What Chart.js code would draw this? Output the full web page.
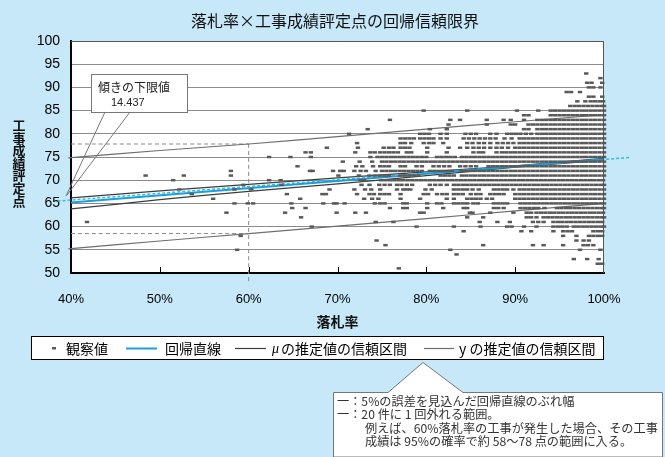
<!DOCTYPE html>
<html lang="ja">
<head>
<meta charset="utf-8">
<title>落札率×工事成績評定点の回帰信頼限界</title>
<script src="https://cdn.jsdelivr.net/npm/chart.js@4.4.1/dist/chart.umd.min.js"></script>
<style>
html,body{margin:0;padding:0;background:#c6e8f8;}
canvas{display:block;}
</style>
</head>
<body>
<canvas id="chart" width="665" height="457"></canvas>
<script>
// ---- Texts ----
const TITLE = '落札率×工事成績評定点の回帰信頼限界';
const X_TITLE = '落札率';
const Y_TITLE = '工事成績評定点';
const LEGEND_LABELS = ['観察値', '回帰直線', 'μの推定値の信頼区間', 'y の推定値の信頼区間'];
const SLOPE_LABEL = '傾きの下限値';
const SLOPE_LOWER = 14.437;
const NOTE_LINES = [
  '一：5%の誤差を見込んだ回帰直線のぶれ幅',
  '一：20 件に 1 回外れる範囲。',
  '例えば、60%落札率の工事が発生した場合、その工事',
  '成績は 95%の確率で約 58～78 点の範囲に入る。'
];

// ---- Axis ticks ----
const rateTicks = [40, 50, 60, 70, 80, 90, 100];
const scoreTicks = [50, 55, 60, 65, 70, 75, 80, 85, 90, 95, 100];

// ---- Observations: one score row, with the bid rates (%) observed at that score ----
const obsScores = [93, 92, 91, 90, 89, 88, 87, 86, 85, 84, 83, 82, 81, 80, 79, 78, 77, 76, 75, 74, 73, 72, 71, 70, 69, 68, 67, 66, 65, 64, 63, 62, 61, 60, 59, 58, 57, 56, 55, 54, 53, 52, 51];
const obsRates = [
  [98],
  [99.6],
  [98.1, 98.6, 99.8],
  [98.3, 98.8, 99.6],
  [95.8, 96.3, 97.3],
  [98.3, 98.8, 99.8],
  [97, 97.9, 98.5, 99, 99.5, 99.9],
  [96.2, 96.7, 97.2, 97.7, 98.2, 98.7, 99.2, 99.7, 100],
  [79.7, 84.6, 90.2, 92.6, 94, 94.5, 95, 95.5, 96, 96.5, 97, 97.5, 98, 98.5, 99, 99.5, 100],
  [91, 91.5, 94, 94.5, 95, 95.5, 96, 96.5, 97, 97.5, 98, 98.5, 99, 99.5, 100],
  [75.9, 82.7, 83.8, 86.8, 88.7, 89.5, 91, 92.5, 93, 93.5, 94, 94.5, 95, 95.5, 96, 96.5, 97, 97.5, 98, 98.5, 99, 99.5, 100],
  [82.5, 86.8, 89.5, 90, 91.5, 92, 92.5, 93, 93.5, 94, 94.5, 95, 95.5, 96, 96.5, 97, 97.5, 98, 98.5, 99, 99.5, 100],
  [73.4, 80.4, 82.3, 91, 91.5, 92.5, 93, 93.5, 94, 94.5, 95, 95.5, 96, 96.5, 97, 97.5, 98, 98.5, 99, 99.5, 100],
  [71.3, 79.3, 79.8, 80.3, 81.6, 82.3, 84.4, 85, 85.6, 87.2, 87.9, 89.1, 89.6, 90.1, 90.6, 91.2, 91.8, 92.5, 93, 93.5, 94, 94.5, 95, 95.5, 96, 96.5, 97, 97.5, 98, 98.5, 99, 99.5, 100],
  [77.1, 77.6, 78.1, 78.6, 79.3, 79.8, 80.3, 80.8, 81.6, 82.3, 84.2, 84.8, 85.4, 86, 86.6, 87.2, 87.8, 88.8, 89.6, 90.5, 91, 91.5, 92, 92.5, 93, 93.5, 94, 94.5, 95, 95.5, 96, 96.5, 97, 97.5, 98, 98.5, 99, 99.5, 100],
  [72.2, 77.1, 77.6, 78.3, 79.7, 80.3, 80.8, 81.9, 84.6, 85.2, 85.9, 86.5, 87.2, 88, 88.6, 89.2, 89.8, 90.5, 91, 91.5, 92, 92.5, 93, 93.5, 94, 94.5, 95, 95.5, 96, 96.5, 97, 97.5, 98, 98.5, 99, 99.5, 100],
  [68.8, 72.3, 75.2, 75.8, 76.3, 77.1, 77.6, 78.1, 80.1, 82.5, 83.8, 84.6, 85.3, 85.9, 86.5, 87.2, 87.9, 88.5, 89.2, 90, 90.5, 91, 91.5, 92, 92.5, 93, 93.5, 94, 94.5, 95, 95.5, 96, 96.5, 97, 97.5, 98, 98.5, 99, 99.5, 100],
  [66.4, 67, 72, 73.7, 74.2, 74.8, 75.3, 75.8, 76.3, 76.8, 77.8, 78.3, 80.1, 82.3, 85.3, 85.9, 86.4, 87.9, 88.5, 89, 89.5, 90, 90.5, 91, 91.5, 92, 92.5, 93, 93.5, 94, 94.5, 95, 95.5, 96, 96.5, 97, 97.5, 98, 98.5, 99, 99.5, 100],
  [62.3, 64.7, 67, 73.7, 74.5, 75, 75.5, 76, 76.5, 77, 77.5, 78, 78.5, 79, 79.5, 80, 81.2, 81.7, 82.2, 82.7, 83.2, 84, 84.5, 85, 85.5, 86, 86.5, 87, 87.5, 88, 88.5, 89, 89.5, 90, 90.5, 91, 91.5, 92, 92.5, 93, 93.5, 94, 94.5, 95, 95.5, 96, 96.5, 97, 97.5, 98, 98.5, 99, 99.5, 100],
  [70.6, 72.5, 73.9, 75, 75.5, 76, 76.5, 77, 77.5, 78, 78.5, 79, 79.5, 80, 80.5, 81, 81.5, 82, 82.5, 83, 83.5, 84, 84.5, 85, 85.5, 86, 86.5, 87, 87.5, 88, 88.5, 89, 89.5, 90, 90.5, 91, 91.5, 92, 92.5, 93, 93.5, 94, 94.5, 95, 95.5, 96, 96.5, 97, 97.5, 98, 98.5, 99, 99.5, 100],
  [65.5, 72.1, 72.8, 74, 74.8, 75.3, 75.8, 77.1, 77.6, 78.9, 79.5, 80.8, 81.4, 82, 82.6, 83.8, 84.4, 85, 85.6, 87, 87.5, 88, 88.5, 89, 89.5, 90, 90.5, 91, 91.5, 92, 92.5, 93, 93.5, 94, 94.5, 95, 95.5, 96, 96.5, 97, 97.5, 98, 98.5, 99, 99.5, 100],
  [58, 66.9, 67.2, 69.5, 70.3, 70.7, 71.9, 72.6, 73.2, 74.3, 75, 75.5, 76, 76.5, 77, 77.5, 78, 78.5, 79, 79.5, 80.4, 80.9, 81.4, 81.9, 82.4, 82.9, 84, 84.5, 85, 85.5, 86, 86.5, 87, 87.5, 88, 88.5, 89, 89.5, 90, 90.5, 91, 91.5, 92, 92.5, 93, 93.5, 94, 94.5, 95, 95.5, 96, 96.5, 97, 97.5, 98, 98.5, 99, 99.5, 100],
  [48.4, 52.7, 58, 70.1, 72.4, 73.6, 74.2, 74.8, 75.3, 75.8, 77.1, 77.6, 78.1, 78.6, 79.1, 81.6, 82.1, 82.6, 83.1, 84, 84.5, 85, 85.5, 86, 86.5, 87, 87.5, 88, 88.5, 89, 89.5, 90, 90.5, 91, 91.5, 92, 92.5, 93, 93.5, 94, 94.5, 95, 95.5, 96, 96.5, 97, 97.5, 98, 98.5, 99, 99.5, 100],
  [51.5, 62.3, 63.6, 72.6, 73, 74.9, 75.4, 75.9, 76.4, 76.9, 77.4, 77.9, 78.4, 78.9, 79.4, 79.9, 80.4, 80.9, 81.4, 81.9, 82.4, 82.9, 83.4, 83.9, 84.4, 84.9, 85.4, 85.9, 86.4, 86.9, 87.4, 87.9, 88.4, 88.9, 89.4, 89.9, 90.4, 90.9, 91.4, 91.9, 92.4, 92.9, 93.4, 93.9, 94.4, 94.9, 95.4, 95.9, 96.4, 96.9, 97.4, 97.9, 98.4, 98.9, 99.4, 99.9],
  [59.4, 63.7, 72.7, 73.6, 74.7, 75.3, 75.9, 76.7, 77.2, 77.8, 78.4, 80.4, 81, 81.6, 82.3, 83.1, 83.6, 84.1, 84.6, 85.1, 85.6, 86.1, 86.6, 87.1, 87.6, 88.1, 88.6, 89.1, 89.6, 90.1, 90.6, 91.1, 91.6, 92.1, 92.6, 93.1, 93.6, 94.1, 94.6, 95.1, 95.6, 96.1, 96.6, 97.1, 97.6, 98.1, 98.6, 99.1, 99.6, 100],
  [52.2, 58.4, 60.3, 69.1, 71.9, 73.1, 73.8, 74.8, 76.7, 77.4, 77.8, 78.2, 79.9, 80.6, 83.1, 83.6, 84.1, 84.6, 85.2, 85.9, 87.6, 88.1, 88.6, 89.1, 89.8, 90.5, 91, 91.5, 92, 92.5, 93, 93.5, 94, 94.5, 95, 95.5, 96, 96.5, 97, 97.5, 98, 98.5, 99, 99.5, 100],
  [53.6, 64.3, 68.3, 68.7, 72.2, 73.6, 74.1, 74.8, 75.3, 75.8, 77.1, 79.7, 80.2, 81.2, 81.8, 82.3, 83.1, 83.6, 84.1, 85, 85.6, 86.1, 87.2, 87.7, 88.2, 88.7, 90, 90.5, 91, 91.5, 92, 92.5, 93, 93.5, 94, 94.5, 95, 95.5, 96, 96.5, 97, 97.5, 98, 98.5, 99, 99.5, 100],
  [56, 65.8, 73, 73.9, 74.6, 77.1, 79.3, 82.3, 83.1, 84.6, 85.1, 85.6, 86.1, 86.8, 87.4, 90, 90.5, 91, 91.5, 92, 92.5, 93, 93.5, 94, 94.5, 95, 95.5, 96, 96.5, 97, 97.5, 98, 98.5, 99, 99.5, 100],
  [58.4, 59.9, 60.5, 64.8, 68.4, 69.6, 69.9, 70.8, 74.2, 74.8, 75.3, 77.4, 77.8, 80.1, 81.2, 81.7, 83.1, 83.6, 84.1, 84.6, 85.3, 85.8, 87.6, 88.1, 88.6, 89.1, 90.6, 91.1, 91.6, 92.1, 92.6, 93.1, 93.6, 94.1, 94.6, 95.1, 95.6, 96.1, 96.6, 97.1, 97.6, 98.1, 98.6, 99.1, 99.6, 100],
  [64.9, 66.4, 75.9, 77.4, 77.8, 80.1, 81.9, 84.2, 84.6, 87.6, 88.1, 88.7, 90.6, 91.1, 91.6, 92.1, 92.6, 93.3, 94.7, 95.2, 95.7, 96.2, 96.7, 97.2, 97.7, 98.2, 98.7, 99.2, 99.7, 100],
  [57.5, 64.1, 69.9, 72, 73.2, 79.3, 79.7, 84.9, 85.2, 87.2, 89.8, 91.3, 91.8, 92.4, 92.9, 93.4, 93.9, 94.4, 94.9, 95.4, 95.9, 96.4, 96.9, 97.4, 97.9, 98.4, 98.9, 99.4, 99.9],
  [65.9, 84.6, 86.4, 91.3, 91.8, 92.4, 93.2, 93.7, 94.2, 94.7, 95.2, 95.7, 96.2, 96.7, 97.2, 97.7, 98.2, 98.7, 99.2, 99.7, 100],
  [41.8, 74.3, 76.3, 86, 88, 89.4, 92, 92.6, 93.2, 94.3, 94.8, 95.3, 95.8, 96.3, 96.8, 97.3, 97.8, 98.3, 98.8, 99.3, 99.8],
  [67.1, 78.9, 83.1, 86.1, 89.1, 89.6, 91, 92.4, 94.3, 94.8, 95.3, 95.8, 96.6, 97.1, 97.6, 98.1, 98.6, 99.1, 99.6, 100],
  [84.2, 90.7, 91.8, 94.3, 95.4, 95.9, 96.4, 98.8, 99.3, 99.8],
  [59.1, 95.4, 96.9, 98.3, 98.8, 99.3, 99.8],
  [74.4, 96.9, 97.7, 98.3],
  [75.4, 86.4, 92, 93.2, 95.4, 97.7, 98.2, 98.8],
  [58.7, 82.7, 97.3, 99.6],
  [83.4],
  [96.6, 98.1, 99.4],
  [99.3, 99.8],
  [76.9]
];

// ---- Regression line and its extended trend ----
const fitRate = [40, 100];
const fitScore = [65.2, 74.5];
const trendRate = [38.5, 103];
const trendScore = [65.5, 74.9];

// ---- Confidence band of the mean (μ) ----
const muRate = [40, 50, 60, 70, 80, 90, 100];
const muUpper = [66.2, 67.7, 69.1, 70.5, 71.8, 73.1, 74.7];
const muLower = [63.8, 65.8, 67.6, 69.2, 71.0, 72.8, 74.3];

// ---- Prediction band of y ----
const predRate = [39.7, 50, 60, 70, 80, 90, 100];
const predUpper = [74.8, 76.4, 77.8, 79.4, 81.0, 82.6, 84.1];
const predLower = [55.2, 56.9, 58.5, 60.1, 61.7, 63.4, 65.0];

// ---- Worked example at 60% ----
const exampleRate = 60;
const exampleUpper = 77.8;
const exampleLower = 58.5;
const guideBottom = 47.6;

// ---- Styles ----
const BG = '#c6e8f8';
const BLUE = '#1a9fdc';
const TREND = '#2fbce9';
const MU_COLOR = '#3c3c3c';
const PRED_COLOR = '#6e6e6e';
const DOT = '#595959';
const GRID = '#8c8c8c';
const JP = "'Noto Sans CJK JP', 'Noto Sans', sans-serif";

const pts = (xs, ys) => xs.map((v, i) => ({ x: v, y: ys[i] }));
const observations = [];
obsScores.forEach((s, i) => obsRates[i].forEach(r => observations.push({ x: r, y: s })));

const lineSet = (label, data, color, width, extra) => Object.assign({
  label, data, showLine: true, borderColor: color, backgroundColor: color,
  borderWidth: width, pointRadius: 0, pointHoverRadius: 0, tension: 0.25
}, extra || {});

const decor = {
  id: 'decor',
  beforeDraw(chart) {
    const { ctx, chartArea: a } = chart;
    ctx.save();
    ctx.fillStyle = BG;
    ctx.fillRect(0, 0, chart.width, chart.height);
    ctx.fillStyle = '#ffffff';
    ctx.fillRect(a.left, a.top, a.right - a.left, a.bottom - a.top);
    ctx.restore();
  },
  afterDraw(chart) {
    const { ctx, chartArea: a, scales: { x } } = chart;
    ctx.save();

    // plot frame (top / right)
    ctx.strokeStyle = '#555';
    ctx.lineWidth = 1;
    ctx.beginPath();
    ctx.moveTo(a.left, a.top + 0.5);
    ctx.lineTo(a.right - 0.5, a.top + 0.5);
    ctx.lineTo(a.right - 0.5, a.bottom);
    ctx.stroke();

    // inner tick marks on the rate axis
    ctx.strokeStyle = '#000';
    rateTicks.forEach(v => {
      if (v > rateTicks[0] && v < rateTicks[rateTicks.length - 1]) {
        const px = Math.round(x.getPixelForValue(v)) + 0.5;
        ctx.beginPath();
        ctx.moveTo(px, a.bottom);
        ctx.lineTo(px, a.bottom - 6);
        ctx.stroke();
      }
    });

    // titles
    ctx.fillStyle = '#111';
    ctx.textAlign = 'center';
    ctx.textBaseline = 'middle';
    ctx.font = `16px ${JP}`;
    ctx.fillText(TITLE, 335, 21);
    ctx.font = `bold 14px ${JP}`;
    ctx.fillText(X_TITLE, (a.left + a.right) / 2, 322);
    ctx.font = `bold 13px ${JP}`;
    [...Y_TITLE].forEach((ch, i) => ctx.fillText(ch, 19, 125 + i * 12.6));

    // legend
    const ly = 348;
    ctx.fillStyle = '#fff';
    ctx.fillRect(31.5, 336.5, 572, 23);
    ctx.strokeStyle = '#000';
    ctx.strokeRect(31.5, 336.5, 572, 23);
    ctx.fillStyle = DOT;
    ctx.fillRect(52, ly - 1, 4, 2.5);
    const seg = (x0, x1, color, w) => {
      ctx.strokeStyle = color; ctx.lineWidth = w;
      ctx.beginPath(); ctx.moveTo(x0, ly + 0.5); ctx.lineTo(x1, ly + 0.5); ctx.stroke();
    };
    seg(126, 157, BLUE, 2);
    seg(235, 266, MU_COLOR, 1.2);
    seg(424, 454, PRED_COLOR, 1.2);
    ctx.fillStyle = '#000';
    ctx.textAlign = 'left';
    ctx.font = `14px ${JP}`;
    ctx.fillText(LEGEND_LABELS[0], 66, ly + 1);
    ctx.fillText(LEGEND_LABELS[1], 165, ly + 1);
    ctx.font = `italic 14px 'Liberation Serif', serif`;
    ctx.fillText(LEGEND_LABELS[2][0], 272, ly + 1);
    ctx.font = `14px ${JP}`;
    ctx.fillText(LEGEND_LABELS[2].slice(1), 281, ly + 1);
    ctx.fillText(LEGEND_LABELS[3], 459, ly + 1);

    // slope call-out
    ctx.strokeStyle = '#777';
    ctx.lineWidth = 1;
    ctx.beginPath();
    ctx.moveTo(105, 112); ctx.lineTo(66, 196);
    ctx.moveTo(130, 112); ctx.lineTo(67, 195);
    ctx.stroke();
    ctx.fillStyle = '#fff';
    ctx.fillRect(91.5, 74.5, 96, 38);
    ctx.strokeRect(91.5, 74.5, 96, 38);
    ctx.fillStyle = '#222';
    ctx.font = `12px ${JP}`;
    ctx.fillText(SLOPE_LABEL, 98, 87);
    ctx.font = `11px 'Liberation Sans', sans-serif`;
    ctx.fillText(SLOPE_LOWER.toFixed(3), 111, 103);

    // explanatory note under the legend
    ctx.beginPath();
    ctx.moveTo(333.5, 457);
    ctx.lineTo(333.5, 392.5);
    ctx.lineTo(388, 392.5);
    ctx.lineTo(423, 362.5);
    ctx.lineTo(463, 392.5);
    ctx.lineTo(662.5, 392.5);
    ctx.lineTo(662.5, 457);
    ctx.closePath();
    ctx.fillStyle = '#fff';
    ctx.fill();
    ctx.strokeStyle = '#777';
    ctx.stroke();
    ctx.fillStyle = '#333';
    ctx.font = `12.2px ${JP}`;
    ctx.fillText(NOTE_LINES[0], 337, 401);
    ctx.fillText(NOTE_LINES[1], 337, 414);
    ctx.fillText(NOTE_LINES[2], 365, 428);
    ctx.fillText(NOTE_LINES[3], 365, 441);

    ctx.restore();
  }
};

new Chart(document.getElementById('chart'), {
  type: 'scatter',
  data: {
    datasets: [
      {
        label: LEGEND_LABELS[0], data: observations, order: 0, clip: false,
        pointStyle: 'line', pointRadius: 2.2, pointHoverRadius: 0, pointBorderWidth: 2.5,
        borderColor: DOT, backgroundColor: DOT
      },
      lineSet(LEGEND_LABELS[1], pts(fitRate, fitScore), BLUE, 2, { order: 1 }),
      lineSet('trend', pts(trendRate, trendScore), TREND, 1.5, { order: 1, borderDash: [3, 2], clip: false }),
      lineSet('mu-upper', pts(muRate, muUpper), MU_COLOR, 1.2, { order: 2 }),
      lineSet('mu-lower', pts(muRate, muLower), MU_COLOR, 1.2, { order: 2 }),
      lineSet('pred-upper', pts(predRate, predUpper), PRED_COLOR, 1.2, { order: 2, clip: false }),
      lineSet('pred-lower', pts(predRate, predLower), PRED_COLOR, 1.2, { order: 2, clip: false }),
      lineSet('guide-upper', pts([rateTicks[0], exampleRate], [exampleUpper, exampleUpper]), '#8a8a8a', 1, { order: 3, borderDash: [4, 3] }),
      lineSet('guide-lower', pts([rateTicks[0], exampleRate], [exampleLower, exampleLower]), '#8a8a8a', 1, { order: 3, borderDash: [4, 3] }),
      lineSet('guide-rate', pts([exampleRate, exampleRate], [exampleUpper, guideBottom]), '#8a8a8a', 1, { order: 3, borderDash: [4, 3], clip: false })
    ]
  },
  options: {
    responsive: false,
    devicePixelRatio: 1,
    animation: false,
    events: [],
    layout: { padding: { left: 0, top: 41, right: 61, bottom: 154 } },
    plugins: { legend: { display: false }, tooltip: { enabled: false }, title: { display: false } },
    scales: {
      x: {
        type: 'linear', min: rateTicks[0], max: rateTicks[rateTicks.length - 1],
        afterFit(s) { s.height = 30; },
        afterBuildTicks(s) { s.ticks = rateTicks.map(v => ({ value: v })); },
        ticks: {
          padding: 19, color: '#000',
          font: { family: "'Liberation Sans', Arial, sans-serif", size: 13 },
          callback: v => v + '%'
        },
        grid: { drawOnChartArea: false, drawTicks: false },
        border: { display: true, color: '#000', width: 2 }
      },
      y: {
        type: 'linear', min: scoreTicks[0], max: scoreTicks[scoreTicks.length - 1],
        afterFit(s) { s.width = 71; },
        afterBuildTicks(s) { s.ticks = scoreTicks.map(v => ({ value: v })); },
        ticks: {
          padding: 11, color: '#000',
          font: { family: "'Liberation Sans', Arial, sans-serif", size: 14 }
        },
        grid: { color: GRID, lineWidth: 1, drawTicks: false },
        border: { display: true, color: '#000', width: 2 }
      }
    }
  },
  plugins: [decor]
});
</script>
</body>
</html>
